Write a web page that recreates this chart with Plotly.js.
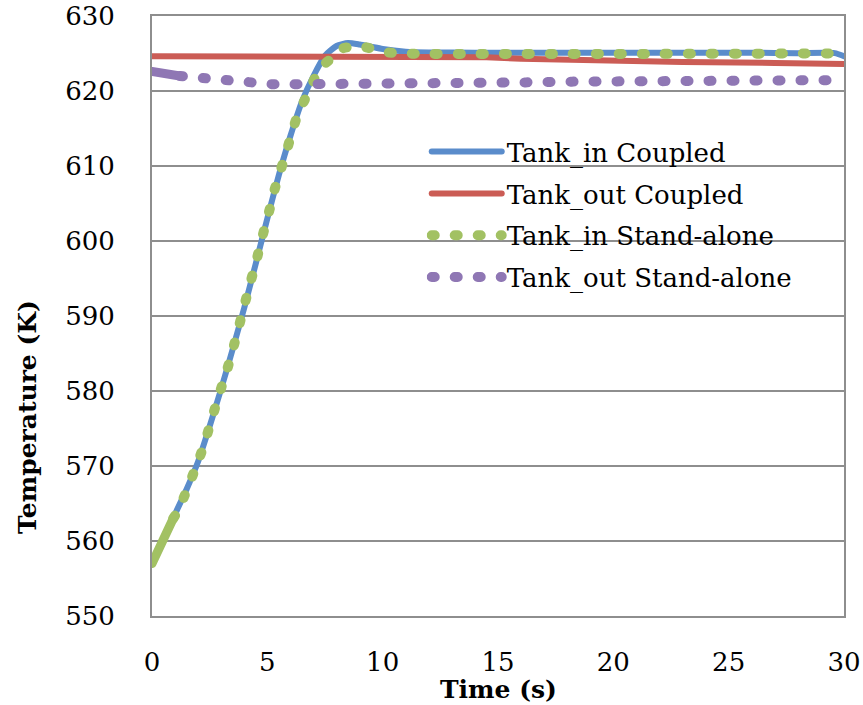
<!DOCTYPE html>
<html>
<head>
<meta charset="utf-8">
<script src="https://cdn.plot.ly/plotly-3.0.1.min.js"></script>
<style>
  html, body { margin: 0; padding: 0; background: #fff; }
  #chart { width: 863px; height: 705px; }
  path.js-line { stroke-linecap: round; stroke-linejoin: round; }
</style>
</head>
<body>
<div id="chart"></div>
<script>
// ---- data ----
const seriesNames = ["Tank_in Coupled", "Tank_out Coupled", "Tank_in Stand-alone", "Tank_out Stand-alone"];

const tankInCoupledT = [0, 0.5, 1.0, 1.5, 2.0, 2.5, 3.0, 3.5, 4.0, 4.5, 5.0, 5.5, 6.0, 6.5, 7.0, 7.5, 8.0, 8.5, 9.0, 9.5, 10.0, 11.0, 12.0, 14, 16, 18, 20, 22, 24, 26, 28, 29.6, 30];
const tankInCoupledK = [557.2, 560.3, 563.6, 566.9, 570.6, 575.3, 580.3, 585.6, 591.1, 597.0, 603.0, 608.8, 614.0, 618.6, 622.0, 624.7, 626.0, 626.4, 626.2, 625.9, 625.6, 625.25, 625.15, 625.1, 625.1, 625.1, 625.1, 625.1, 625.1, 625.1, 625.05, 625.05, 624.65];

const tankOutCoupledT = [0, 5, 10, 13.0, 14.5, 16.0, 18.0, 20.0, 23.0, 27.0, 29.2, 30];
const tankOutCoupledK = [624.65, 624.65, 624.65, 624.65, 624.5, 624.3, 624.13, 624.0, 623.87, 623.75, 623.62, 623.6];

const tankInAloneT = [0, 0.3, 0.6, 0.92, 1.14, 1.5, 1.82, 2.01, 2.3, 2.54, 2.8, 3.06, 3.28, 3.52, 3.74, 3.96, 4.18, 4.51, 4.72, 4.94, 5.16, 5.3, 5.55, 5.81, 6.05, 6.31, 6.68, 7.04, 7.31, 7.98, 8.29, 8.8, 9.26, 9.7, 10.2, 11.26, 12.2, 14, 16, 18, 20, 22, 24, 26, 28, 30];
const tankInAloneK = [557.0, 559.0, 561.0, 563.0, 564.1, 566.7, 569.2, 570.7, 573.2, 575.8, 578.4, 581.0, 583.1, 585.7, 588.3, 590.9, 593.5, 597.2, 599.8, 602.4, 604.9, 606.7, 609.2, 611.7, 614.3, 616.8, 619.2, 621.6, 623.1, 624.9, 625.7, 626.0, 625.85, 625.5, 625.15, 624.98, 624.95, 624.95, 624.95, 624.95, 624.95, 624.95, 624.97, 624.98, 625.0, 625.0];

const tankOutAloneT = [0, 0.4, 0.8, 1.21, 1.5, 2.0, 2.3, 3.2, 4.22, 5.23, 6.24, 7.25, 8.3, 9.3, 10.24, 11.26, 12.2, 14.25, 16.2, 18.2, 20.25, 22.2, 24.3, 26.25, 28.2, 30];
const tankOutAloneK = [622.6, 622.4, 622.2, 622.0, 621.9, 621.7, 621.6, 621.3, 621.0, 620.9, 620.9, 620.9, 620.9, 620.95, 621.0, 621.05, 621.05, 621.1, 621.15, 621.25, 621.3, 621.3, 621.4, 621.4, 621.45, 621.45];

// Excel drew the densely sampled start of the dotted series as a solid run
const aloneDenseEndT = [0.92, 1.21];

const xTicks = [0, 5, 10, 15, 20, 25, 30];
const yTicks = [550, 560, 570, 580, 590, 600, 610, 620, 630];
const xTitle = "Time (s)";
const yTitle = "Temperature (K)";

// ---- styles ----
const colors = ["#5A8CCB", "#CB5C55", "#A2C163", "#8F77B4"];
const dotDash = "3px,20px";
const serif = "DejaVu Serif, Liberation Serif, serif";

function upTo(tArr, vArr, tMax) {
  const t = [], v = [];
  for (let i = 0; i < tArr.length; i++) if (tArr[i] <= tMax + 1e-9) { t.push(tArr[i]); v.push(vArr[i]); }
  return { t, v };
}
function from(tArr, vArr, tMin) {
  const t = [], v = [];
  for (let i = 0; i < tArr.length; i++) if (tArr[i] >= tMin - 1e-9) { t.push(tArr[i]); v.push(vArr[i]); }
  return { t, v };
}

const inDense = upTo(tankInAloneT, tankInAloneK, aloneDenseEndT[0]);
const inDots = from(tankInAloneT, tankInAloneK, aloneDenseEndT[0]);
const outDense = upTo(tankOutAloneT, tankOutAloneK, aloneDenseEndT[1]);
const outDots = from(tankOutAloneT, tankOutAloneK, aloneDenseEndT[1]);

const traces = [
  { x: tankInCoupledT, y: tankInCoupledK, name: seriesNames[0], legendgroup: "g0", mode: "lines",
    line: { color: colors[0], width: 6, shape: "spline", smoothing: 0.6 } },
  { x: tankOutCoupledT, y: tankOutCoupledK, name: seriesNames[1], legendgroup: "g1", mode: "lines",
    line: { color: colors[1], width: 6 } },
  { x: inDense.t, y: inDense.v, name: seriesNames[2], legendgroup: "g2", showlegend: false, mode: "lines",
    line: { color: colors[2], width: 9 } },
  { x: inDots.t, y: inDots.v, name: seriesNames[2], legendgroup: "g2", mode: "lines",
    line: { color: colors[2], width: 10, dash: dotDash, shape: "spline", smoothing: 0.4 } },
  { x: outDense.t, y: outDense.v, name: seriesNames[3], legendgroup: "g3", showlegend: false, mode: "lines",
    line: { color: colors[3], width: 9 } },
  { x: outDots.t, y: outDots.v, name: seriesNames[3], legendgroup: "g3", mode: "lines",
    line: { color: colors[3], width: 10, dash: dotDash } }
];

const axisCommon = {
  showline: true, mirror: true, linecolor: "#8E8E8E", linewidth: 2,
  showgrid: true, gridcolor: "#8E8E8E", gridwidth: 1.5,
  zeroline: false, ticks: "",
  tickfont: { family: serif, size: 26, color: "#000" }
};

const layout = {
  width: 863, height: 705,
  margin: { l: 152, r: 19, t: 16, b: 89 },
  paper_bgcolor: "#fff", plot_bgcolor: "#fff",
  showlegend: true,
  xaxis: Object.assign({}, axisCommon, {
    range: [0, 30], tickvals: xTicks, ticktext: xTicks.map(String),
    showgrid: false, ticklabelstandoff: 22
  }),
  yaxis: Object.assign({}, axisCommon, {
    range: [550, 630], tickvals: yTicks, ticktext: yTicks.map(String),
    ticklabelstandoff: 30
  }),
  legend: {
    x: 0.397, y: 0.813, xanchor: "left", yanchor: "top",
    bgcolor: "rgba(0,0,0,0)", borderwidth: 0,
    font: { family: serif, size: 26, color: "#000" },
    itemwidth: 70, tracegroupgap: 5, traceorder: "grouped"
  },
  annotations: [
    { text: "<b>" + yTitle + "</b>", xref: "paper", yref: "paper", x: -0.179, y: 0.332,
      textangle: -90, showarrow: false, xanchor: "center", yanchor: "middle",
      font: { family: serif, size: 25, color: "#000" } },
    { text: "<b>" + xTitle + "</b>", xref: "paper", yref: "paper", x: 0.5, y: -0.122,
      showarrow: false, xanchor: "center", yanchor: "middle",
      font: { family: serif, size: 25, color: "#000" } }
  ]
};

Plotly.newPlot("chart", traces, layout, { displayModeBar: false, staticPlot: true });
</script>
</body>
</html>
